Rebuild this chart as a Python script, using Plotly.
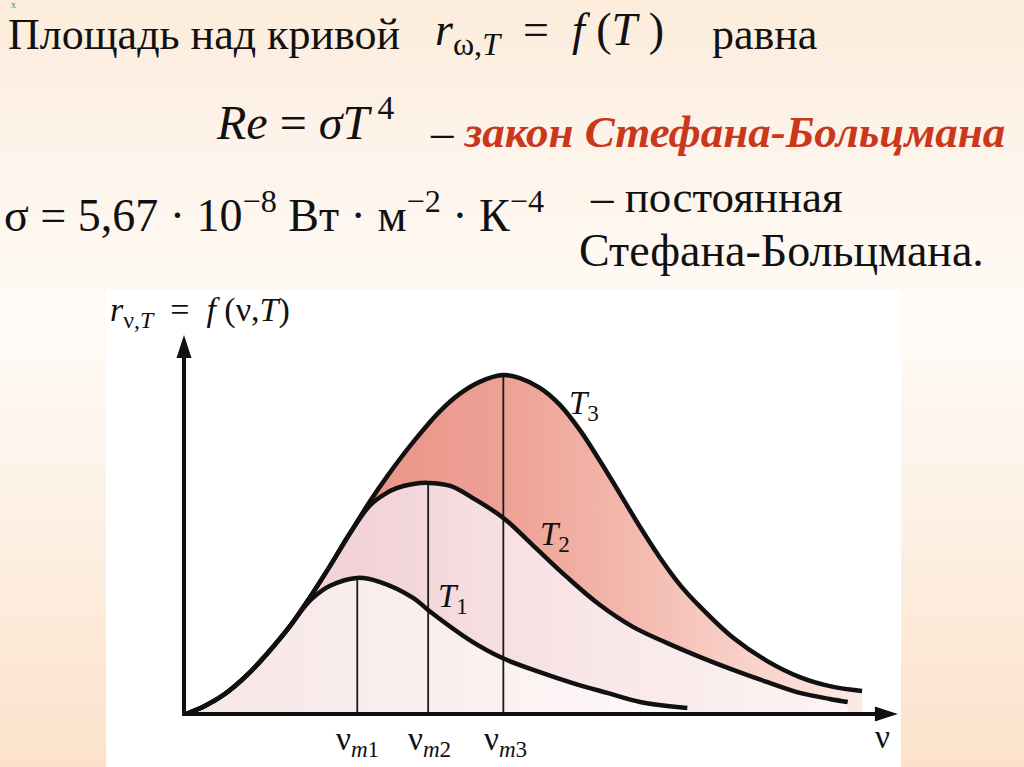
import numpy as np
import plotly.graph_objects as go

W, H = 1024, 767
SERIF = "Liberation Serif, Times New Roman, serif"
NB = "\u00a0"

# ---------------- data (arbitrary units: frequency ν, spectral density r) ----------------
nu_T1 = [0.03, 0.29, 0.57, 0.88, 1.17, 1.48, 1.66, 1.80, 2.04, 2.42, 2.74, 3.20, 3.44, 3.99,
         4.44, 4.97, 5.43, 5.91, 6.37, 7.03]
r_T1 = [0.00, 0.21, 0.53, 1.03, 1.62, 2.33, 2.79, 3.08, 3.40, 3.61, 3.50, 3.08, 2.71, 1.96,
        1.49, 1.11, 0.82, 0.56, 0.32, 0.16]

nu_T2 = [0.03, 0.29, 0.57, 0.88, 1.17, 1.48, 1.76, 2.04, 2.32, 2.60, 2.81, 2.97, 3.20, 3.41,
         3.72, 4.06, 4.46, 4.87, 5.35, 5.81, 6.27, 6.75, 7.21, 7.67, 8.14, 8.60, 9.02, 9.27]
r_T2 = [0.00, 0.21, 0.53, 1.03, 1.62, 2.33, 3.10, 3.93, 4.80, 5.54, 5.84, 5.99, 6.10, 6.13,
        6.05, 5.70, 5.20, 4.48, 3.63, 2.89, 2.31, 1.88, 1.51, 1.17, 0.85, 0.56, 0.40, 0.32]

nu_T3 = [0.03, 0.29, 0.57, 0.88, 1.17, 1.48, 1.76, 2.04, 2.32, 2.60, 2.84, 3.20, 3.58, 3.85,
         4.13, 4.46, 4.69, 4.97, 5.25, 5.53, 5.81, 6.09, 6.37, 6.65, 6.93, 7.21, 7.67, 8.14,
         8.60, 9.02, 9.47]
r_T3 = [0.00, 0.21, 0.53, 1.03, 1.62, 2.33, 3.10, 3.93, 4.80, 5.65, 6.31, 7.21, 8.04, 8.49,
        8.81, 8.99, 8.91, 8.65, 8.20, 7.53, 6.71, 5.84, 4.96, 4.14, 3.42, 2.84, 2.02, 1.41,
        0.98, 0.74, 0.61]

nu_max = [2.42, 3.41, 4.46]          # ν_m1, ν_m2, ν_m3
nu_max_labels = ["ν<sub><i>m</i>1</sub>", "ν<sub><i>m</i>2</sub>", "ν<sub><i>m</i>3</sub>"]
curve_labels = ["<i>T</i><sub>1</sub>", "<i>T</i><sub>2</sub>", "<i>T</i><sub>3</sub>"]

AXIS_X_END = 9.97
AXIS_Y_END = 10.05

# ---------------- geometry of the drawing (pixel frame of the slide) ----------------
X0_PX, Y0_PX = 184, 714      # pixel position of the origin
SX, SY = 71.6, 37.7          # pixels per data unit
xr = [-X0_PX / SX, (W - X0_PX) / SX]
yr = [-(H - Y0_PX) / SY, Y0_PX / SY]


def P(px, py):
    return px / W, 1 - py / H


fig = go.Figure()

# ---------------- filled areas ----------------
fills = [
    (nu_T3, r_T3, [[0, '#E88E82'], [0.27, '#EA9488'], [0.47, '#EEA195'], [0.61, '#F2B2A6'],
                   [0.76, '#F6C8BE'], [0.91, '#FADCD5'], [1, '#FCEAE6']]),
    (nu_T2, r_T2, [[0, '#F0CDD3'], [0.31, '#F2D4D9'], [0.47, '#F6DFE2'], [0.63, '#F9E7E9'],
                   [0.93, '#FCF2F2'], [1, '#FDF5F5']]),
    (nu_T1, r_T1, [[0, '#F7E6E6'], [0.5, '#FAEFEF'], [1, '#FEF9F9']]),
]
SMOOTH = 1.0
for nu, r, cs in fills:
    fig.add_trace(go.Scatter(x=nu, y=r, mode='lines',
                             line=dict(width=0, shape='spline', smoothing=SMOOTH),
                             fill='tozeroy',
                             fillgradient=dict(type='horizontal', colorscale=cs),
                             hoverinfo='skip', showlegend=False))

# ---------------- vertical lines at ν_m ----------------
for nm, nu, r in zip(nu_max, [nu_T1, nu_T2, nu_T3], [r_T1, r_T2, r_T3]):
    peak = float(np.interp(nm, nu, r))
    fig.add_trace(go.Scatter(x=[nm, nm], y=[0, peak], mode='lines',
                             line=dict(color='#1a1a1a', width=1.8),
                             hoverinfo='skip', showlegend=False))

# ---------------- curves ----------------
for nu, r in [(nu_T1, r_T1), (nu_T2, r_T2), (nu_T3, r_T3)]:
    fig.add_trace(go.Scatter(x=nu, y=r, mode='lines',
                             line=dict(color='#111111', width=4.5, shape='spline', smoothing=SMOOTH),
                             hoverinfo='skip', showlegend=False))

# ---------------- axes with arrows ----------------
HEAD_L, HEAD_W = 23, 7.5   # px
fig.add_trace(go.Scatter(x=[0, AXIS_X_END - HEAD_L / SX + 0.05], y=[0, 0], mode='lines',
                         line=dict(color='#111111', width=4), hoverinfo='skip', showlegend=False))
fig.add_trace(go.Scatter(x=[0, 0], y=[-2 / SY, AXIS_Y_END - HEAD_L / SY + 0.05], mode='lines',
                         line=dict(color='#111111', width=4), hoverinfo='skip', showlegend=False))

shapes = []
# background of slide: vertical gradient strips
stops = [(0, (252, 236, 219)), (140, (253, 243, 233)), (330, (255, 251, 247)),
         (520, (253, 240, 228)), (767, (252, 226, 202))]
n = 60
for i in range(n):
    y0p = i * H / n
    y1p = (i + 1) * H / n
    ym = (y0p + y1p) / 2
    ys = [s[0] for s in stops]
    col = [int(round(np.interp(ym, ys, [s[1][k] for s in stops]))) for k in range(3)]
    shapes.append(dict(type='rect', xref='paper', yref='paper', x0=0, x1=1,
                       y0=1 - y1p / H - 0.001, y1=1 - y0p / H + 0.001,
                       fillcolor=f'rgb({col[0]},{col[1]},{col[2]})', line=dict(width=0), layer='below'))
# white picture panel
shapes.append(dict(type='rect', xref='paper', yref='paper', x0=106 / W, x1=901 / W,
                   y0=0, y1=1 - 290 / H, fillcolor='white', line=dict(width=0), layer='below'))
# arrowheads
hx = HEAD_L / SX
hy = HEAD_W / SY
shapes.append(dict(type='path', xref='x', yref='y',
                   path=f'M{AXIS_X_END},0 L{AXIS_X_END - hx},{hy} L{AXIS_X_END - hx},{-hy} Z',
                   fillcolor='#111111', line=dict(width=0)))
hy2 = HEAD_L / SY
hx2 = HEAD_W / SX
shapes.append(dict(type='path', xref='x', yref='y',
                   path=f'M0,{AXIS_Y_END} L{hx2},{AXIS_Y_END - hy2} L{-hx2},{AXIS_Y_END - hy2} Z',
                   fillcolor='#111111', line=dict(width=0)))

# ---------------- texts ----------------
ann = []


def T(s, px, py, size, color='#111111', xanchor='left'):
    x, y = P(px, py)
    ann.append(dict(text=s, x=x, y=y, xref='paper', yref='paper', showarrow=False,
                    xanchor=xanchor, yanchor='middle',
                    font=dict(family=SERIF, size=size, color=color)))


T("x", 9, 5, 10, color='#2A9A8A')
T("Площадь над кривой", 6, 34, 44)
T(f"<i>r</i><sub>ω,<i>T</i></sub>{NB}{NB}={NB}{NB}<i>f</i>{NB}(<i>T</i>{NB})", 433, 33, 46)
T("равна", 710, 34, 44)
T(f"<i>Re</i>{NB}={NB}<i>σT</i><sup>{NB}4</sup>", 214, 119, 48)
T("– <span style='color:#C9381B'><b><i>закон Стефана-Больцмана</i></b></span>", 428, 132, 45)
T(f"σ{NB}={NB}5,67{NB}·{NB}10<sup>−8</sup>{NB}Вт{NB}·{NB}м<sup>−2</sup>{NB}·{NB}К<sup>−4</sup>",
  2, 212, 46)
T("– постоянная", 588, 197, 45)
T("Стефана-Больцмана.", 577, 250, 46)

# chart labels
T(f"<i>r</i><sub>ν,<i>T</i></sub>{NB}{NB}={NB}{NB}<i>f</i>{NB}(ν,<i>T</i>)", 108, 312, 34)
for lab, (px, py) in zip(curve_labels, [(436, 598), (538, 536), (567, 405)]):
    T(lab, px, py, 33)
for lab, px in zip(nu_max_labels, [334, 406, 482]):
    T(lab, px, 741, 33)
T("ν", 873, 737, 33)

fig.update_layout(
    width=W, height=H,
    margin=dict(l=0, r=0, t=0, b=0, pad=0),
    paper_bgcolor='#FDF3EA', plot_bgcolor='rgba(0,0,0,0)',
    xaxis=dict(range=xr, visible=False, fixedrange=True),
    yaxis=dict(range=yr, visible=False, fixedrange=True),
    shapes=shapes, annotations=ann, showlegend=False,
)

fig.write_html("out.html", config={'displayModeBar': False},
               post_script="document.body.style.margin='0';document.body.style.overflow='hidden';")
